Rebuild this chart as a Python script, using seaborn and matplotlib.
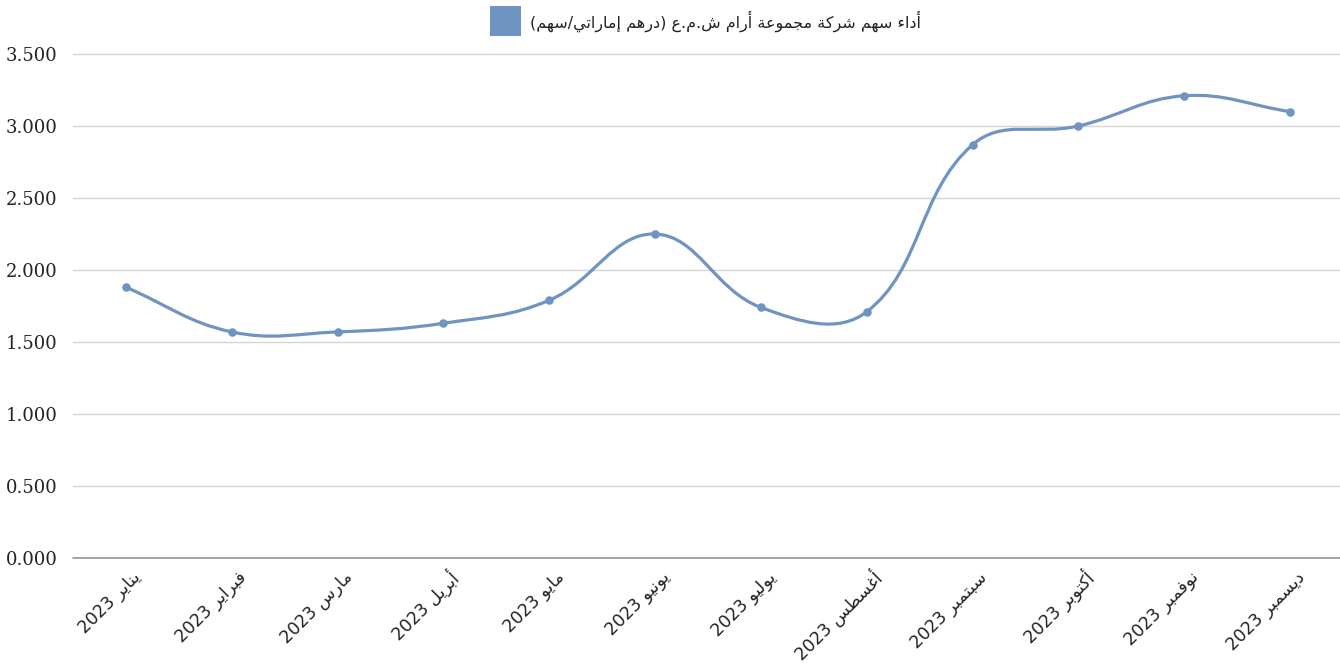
import numpy as np
import pandas as pd
import matplotlib
matplotlib.use("Agg")
import matplotlib.pyplot as plt
from matplotlib.path import Path
from matplotlib.patches import PathPatch, Rectangle
from matplotlib.ticker import FuncFormatter
from matplotlib.transforms import ScaledTranslation
import seaborn as sns

# ---------------- data ----------------
months = ["يناير", "فبراير", "مارس", "أبريل", "مايو", "يونيو",
          "يوليو", "أغسطس", "سبتمبر", "أكتوبر", "نوفمبر", "ديسمبر"]
year = "2023"
prices = [1.88, 1.57, 1.57, 1.63, 1.79, 2.25, 1.74, 1.71, 2.87, 3.00, 3.21, 3.10]
series_label = "أداء سهم شركة مجموعة أرام ش.م.ع (درهم إماراتي/سهم)"
y_ticks = [0.0, 0.5, 1.0, 1.5, 2.0, 2.5, 3.0, 3.5]

LINE_COLOR = "#6f94c2"

# ---------------- minimal Arabic shaping (presentation forms) ----------------
DUAL = {'\u0628': 0xFE8F, '\u062A': 0xFE95, '\u062C': 0xFE9D, '\u0633': 0xFEB1,
        '\u0634': 0xFEB5, '\u0637': 0xFEC1, '\u0639': 0xFEC9, '\u063A': 0xFECD,
        '\u0641': 0xFED1, '\u0643': 0xFED9, '\u0644': 0xFEDD, '\u0645': 0xFEE1,
        '\u0646': 0xFEE5, '\u0647': 0xFEE9, '\u064A': 0xFEF1}
RIGHT = {'\u0623': 0xFE83, '\u0625': 0xFE87, '\u0627': 0xFE8D, '\u0629': 0xFE93,
         '\u062F': 0xFEA9, '\u0631': 0xFEAD, '\u0648': 0xFEED}
NONJ = {'\u0621': 0xFE80}


def shape(s):
    out = []
    n = len(s)
    for i, c in enumerate(s):
        if c in DUAL or c in RIGHT:
            prev = s[i - 1] if i > 0 else ''
            nxt = s[i + 1] if i < n - 1 else ''
            jp = prev in DUAL
            jn = (c in DUAL) and (nxt in DUAL or nxt in RIGHT)
            base = DUAL.get(c, RIGHT.get(c))
            if jp and jn:
                code = base + 3
            elif jp:
                code = base + 1
            elif jn:
                code = base + 2
            else:
                code = base
            out.append(chr(code))
        elif c in NONJ:
            out.append(chr(NONJ[c]))
        else:
            out.append(c)
    return ''.join(out)


def visual(s):
    sh = shape(s)[::-1]
    mirror = {'(': ')', ')': '('}
    sh = ''.join(mirror.get(c, c) for c in sh)
    res, run = [], []
    for c in sh:
        if c.isdigit():
            run.append(c)
        else:
            if run:
                res.append(''.join(run[::-1]))
                run = []
            res.append(c)
    if run:
        res.append(''.join(run[::-1]))
    return ''.join(res)


labels = [visual(f"{m} {year}") for m in months]

# ---------------- figure ----------------
sns.set_theme(style="white")
plt.rcParams['font.family'] = ['DejaVu Sans']

W, H = 1340, 666
fig = plt.figure(figsize=(W / 100, H / 100), dpi=100)
ax_left, ax_right, ax_top, ax_bottom = 73, 1343, 54, 558
ax = fig.add_axes([ax_left / W, (H - ax_bottom) / H,
                   (ax_right - ax_left) / W, (ax_bottom - ax_top) / H])
ax.set_xlim(-0.5, len(months) - 0.5)
ax.set_ylim(0, 3.5)

df = pd.DataFrame({"x": np.arange(len(months)), "price": prices})

# Chart.js-like cubic spline (tension 0.4), computed in pixel space
sx = (ax_right - ax_left) / len(months)
sy = (ax_bottom - ax_top) / 3.5
pts = np.column_stack([df["x"].values * sx, df["price"].values * sy])
t = 0.4
cps = []
for i in range(len(pts)):
    p0 = pts[i - 1] if i > 0 else pts[i]
    p1 = pts[i]
    p2 = pts[i + 1] if i < len(pts) - 1 else pts[i]
    d01 = np.hypot(*(p1 - p0))
    d12 = np.hypot(*(p2 - p1))
    tot = d01 + d12
    s01 = d01 / tot if tot else 0
    s12 = d12 / tot if tot else 0
    cps.append((p1 - t * s01 * (p2 - p0), p1 + t * s12 * (p2 - p0)))
verts = [pts[0]]
codes = [Path.MOVETO]
for i in range(len(pts) - 1):
    verts += [cps[i][1], cps[i + 1][0], pts[i + 1]]
    codes += [Path.CURVE4] * 3
verts = np.array(verts) / np.array([sx, sy])
ax.add_patch(PathPatch(Path(verts, codes), facecolor="none",
                       edgecolor=LINE_COLOR, lw=2.3, capstyle="round",
                       joinstyle="round", zorder=3))

sns.scatterplot(data=df, x="x", y="price", ax=ax, color=LINE_COLOR, s=38,
                edgecolor=LINE_COLOR, linewidth=0, zorder=4, legend=False)

# grid
ax.set_yticks(y_ticks)
for v in y_ticks:
    ax.axhline(v, color="#8a8a8a" if v == 0 else "#d4d4d4",
               lw=1.1 if v == 0 else 1.0, zorder=1, clip_on=False)
ax.yaxis.set_major_formatter(FuncFormatter(lambda v, p: f"{v:.3f}"))
for lab in ax.get_yticklabels():
    lab.set_fontfamily("DejaVu Serif")
    lab.set_fontsize(13)
    lab.set_color("#222222")
ax.tick_params(axis="y", length=0, pad=11)

ax.set_xticks(df["x"].values)
ax.set_xticklabels(labels, rotation=45, ha="right", va="center",
                   rotation_mode="anchor", fontsize=12.5, color="#222222",
                   family=["DejaVu Sans"])
ax.tick_params(axis="x", length=0, pad=12)
offset = ScaledTranslation(12 / 100, 0 / 100, fig.dpi_scale_trans)
for lab in ax.get_xticklabels():
    lab.set_transform(lab.get_transform() + offset)
for s in ax.spines.values():
    s.set_visible(False)
ax.set_xlabel("")
ax.set_ylabel("")

# legend (box + label)
fig.patches.append(Rectangle((490 / W, (H - 36) / H), 31 / W, 30 / H,
                             transform=fig.transFigure, facecolor=LINE_COLOR,
                             edgecolor="none"))
fig.text(530 / W, (H - 21) / H, visual(series_label), ha="left", va="center",
         fontsize=11.5, color="#222222", family=["DejaVu Sans"])

fig.savefig("out.png", dpi=100)
